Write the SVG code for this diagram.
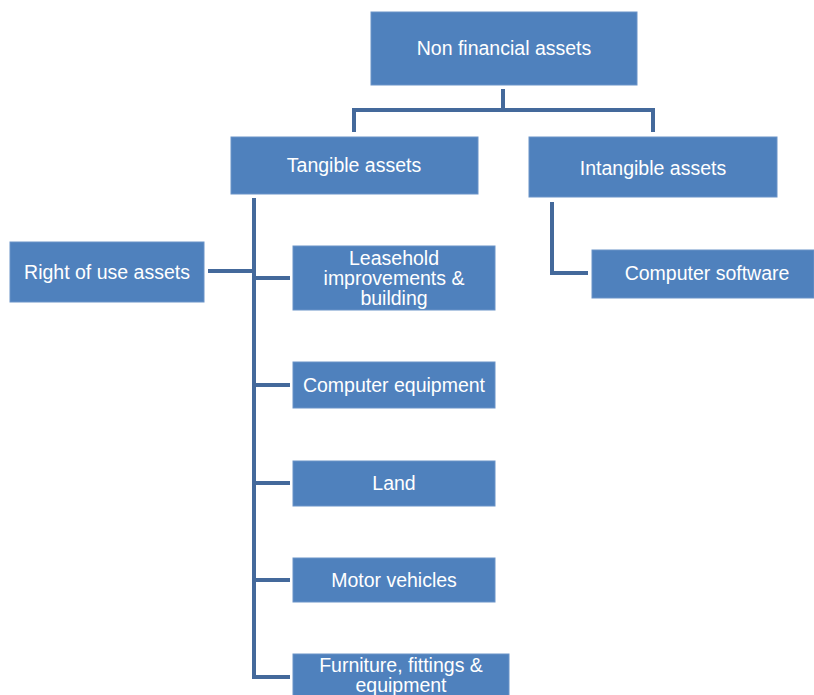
<svg xmlns="http://www.w3.org/2000/svg" width="814" height="695" viewBox="0 0 814 695">
<style>
.box{fill:#4f81bd;stroke:#6a93c8;stroke-width:1}
.t{font-family:"Liberation Sans",Arial,sans-serif;font-size:19.5px;fill:#ffffff;text-anchor:middle}
.c{fill:none;stroke:#44699b;stroke-width:4;stroke-linejoin:miter;stroke-linecap:butt}
</style>
<rect width="814" height="695" fill="#ffffff"/>
<g id="connectors">
<path class="c" d="M503,89 V110 M354,132 V110 H653 V132"/>
<path class="c" d="M254,198 V677 H290"/>
<path class="c" d="M208,271 H254 M254,278 H290 M254,385 H290 M254,483 H290 M254,580 H290"/>
<path class="c" d="M552,202 V273 H588"/>
</g>
<g id="non-financial"><rect class="box" x="371" y="12" width="266" height="73"/><text class="t" x="504" y="55">Non financial assets</text></g>
<g id="tangible"><rect class="box" x="231" y="137" width="247" height="57"/><text class="t" x="354" y="172">Tangible assets</text></g>
<g id="intangible"><rect class="box" x="529" y="137" width="248" height="60"/><text class="t" x="653" y="175">Intangible assets</text></g>
<g id="right-of-use"><rect class="box" x="10" y="242" width="194" height="60"/><text class="t" x="107" y="279">Right of use assets</text></g>
<g id="leasehold"><rect class="box" x="293" y="246" width="202" height="64"/><text class="t" x="394" y="265">Leasehold</text><text class="t" x="394" y="285">improvements &amp;</text><text class="t" x="394" y="305">building</text></g>
<g id="computer-software"><rect class="box" x="592" y="250" width="222" height="48"/><text class="t" x="707" y="280">Computer software</text></g>
<g id="computer-equipment"><rect class="box" x="293" y="362" width="202" height="46"/><text class="t" x="394" y="392">Computer equipment</text></g>
<g id="land"><rect class="box" x="293" y="461" width="202" height="45"/><text class="t" x="394" y="490">Land</text></g>
<g id="motor-vehicles"><rect class="box" x="293" y="558" width="202" height="44"/><text class="t" x="394" y="587">Motor vehicles</text></g>
<g id="furniture"><rect class="box" x="293" y="654" width="216" height="45"/><text class="t" x="401" y="672">Furniture, fittings &amp;</text><text class="t" x="401" y="692">equipment</text></g>
</svg>
